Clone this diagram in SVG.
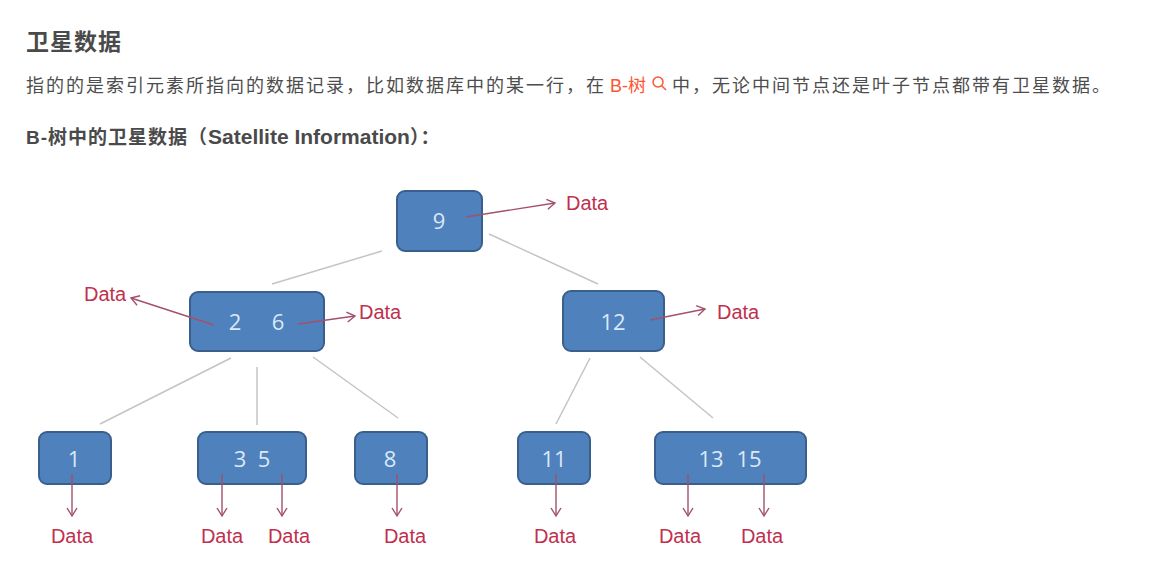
<svg xmlns="http://www.w3.org/2000/svg" width="1159" height="586" viewBox="0 0 1159 586">
<defs>
<marker id="ah" markerWidth="12" markerHeight="12" refX="10" refY="6" orient="auto" markerUnits="userSpaceOnUse">
<polyline points="2,1 10,6 2,11" fill="none" stroke="#a4506c" stroke-width="1.4"/>
</marker>
<style>
.h1{font-family:"Liberation Sans","Noto Sans CJK SC",sans-serif;font-weight:bold;font-size:23px;fill:#4a4a4a}
.p{font-family:"Liberation Sans","Noto Sans CJK SC",sans-serif;font-size:18px;fill:#4d4d4d}
.red{fill:#fc5531}
.h3{font-family:"Liberation Sans","Noto Sans CJK SC",sans-serif;font-weight:bold;font-size:19px;fill:#4a4a4a}
.box{fill:#4f81bd;stroke:#3b5f8c;stroke-width:2}
.num{font-family:"Open Sans","Liberation Sans",sans-serif;font-size:22px;fill:#dbe8f6;text-anchor:middle}
.data{font-family:"Liberation Sans",sans-serif;font-size:20px;fill:#c0304e}
.dc{text-anchor:middle}
.edge{stroke:#c4c4c8;stroke-width:1.5;fill:none}
.ptr{stroke:#a4506c;stroke-width:1.4;fill:none;marker-end:url(#ah)}
</style>
</defs>
<rect width="1159" height="586" fill="#ffffff"/>
<g id="header">
<text class="h1" x="26" y="50" letter-spacing="1">卫星数据</text>
<text class="p" x="26" y="92" letter-spacing="2">指的的是索引元素所指向的数据记录，比如数据库中的某一行，在</text>
<text class="p red" x="610" y="92">B-树</text>
<g id="search-icon" fill="none" stroke="#fc5531" stroke-width="1.5">
<circle cx="658" cy="82" r="5"/>
<line x1="661.5" y1="85.5" x2="666" y2="90"/>
</g>
<text class="p" x="672" y="92" letter-spacing="2">中，无论中间节点还是叶子节点都带有卫星数据。</text>
<text class="h3" x="26" y="144"><tspan letter-spacing="1">B-树中的卫星数据（</tspan><tspan font-size="21">Satellite Information</tspan><tspan letter-spacing="1">）：</tspan></text>
</g>
<g id="node-9"><rect class="box" x="397" y="191" width="85" height="60" rx="8"/><text class="num" x="439" y="229">9</text></g>
<g id="node-2-6"><rect class="box" x="190" y="292" width="134" height="59" rx="8"/><text class="num" x="235" y="330">2</text><text class="num" x="278" y="330">6</text></g>
<g id="node-12"><rect class="box" x="563" y="291" width="101" height="60" rx="8"/><text class="num" x="613" y="330">12</text></g>
<g id="node-1"><rect class="box" x="39" y="432" width="72" height="52" rx="8"/><text class="num" x="74" y="467">1</text></g>
<g id="node-3-5"><rect class="box" x="198" y="432" width="108" height="52" rx="8"/><text class="num" x="240" y="467">3</text><text class="num" x="264" y="467">5</text></g>
<g id="node-8"><rect class="box" x="355" y="432" width="72" height="52" rx="8"/><text class="num" x="390" y="467">8</text></g>
<g id="node-11"><rect class="box" x="518" y="432" width="72" height="52" rx="8"/><text class="num" x="554" y="467">11</text></g>
<g id="node-13-15"><rect class="box" x="655" y="432" width="151" height="52" rx="8"/><text class="num" x="711" y="467">13</text><text class="num" x="749" y="467">15</text></g>
<g id="connectors">
<line class="edge" x1="272" y1="284" x2="382" y2="251"/>
<line class="edge" x1="489" y1="234" x2="598" y2="284"/>
<line class="edge" x1="231" y1="358" x2="100" y2="424"/>
<line class="edge" x1="257" y1="367" x2="257" y2="425"/>
<line class="edge" x1="313" y1="357" x2="398" y2="418"/>
<line class="edge" x1="590" y1="358" x2="556" y2="424"/>
<line class="edge" x1="640" y1="357" x2="713" y2="418"/>
<line class="ptr" x1="466" y1="217" x2="555" y2="203"/>
<line class="ptr" x1="214" y1="325" x2="131" y2="298"/>
<line class="ptr" x1="298" y1="324" x2="355" y2="316"/>
<line class="ptr" x1="650" y1="320" x2="705" y2="309"/>
<line class="ptr" x1="72" y1="474" x2="72" y2="516"/>
<line class="ptr" x1="222" y1="474" x2="222" y2="516"/>
<line class="ptr" x1="282" y1="474" x2="282" y2="516"/>
<line class="ptr" x1="397" y1="474" x2="397" y2="516"/>
<line class="ptr" x1="556" y1="474" x2="556" y2="516"/>
<line class="ptr" x1="688" y1="474" x2="688" y2="516"/>
<line class="ptr" x1="764" y1="474" x2="764" y2="516"/>
</g>
<g id="data-labels">
<text class="data" x="566" y="210">Data</text>
<text class="data" x="84" y="301">Data</text>
<text class="data" x="359" y="319">Data</text>
<text class="data" x="717" y="319">Data</text>
<text class="data dc" x="72" y="543">Data</text>
<text class="data dc" x="222" y="543">Data</text>
<text class="data dc" x="289" y="543">Data</text>
<text class="data dc" x="405" y="543">Data</text>
<text class="data dc" x="555" y="543">Data</text>
<text class="data dc" x="680" y="543">Data</text>
<text class="data dc" x="762" y="543">Data</text>
</g>
</svg>
